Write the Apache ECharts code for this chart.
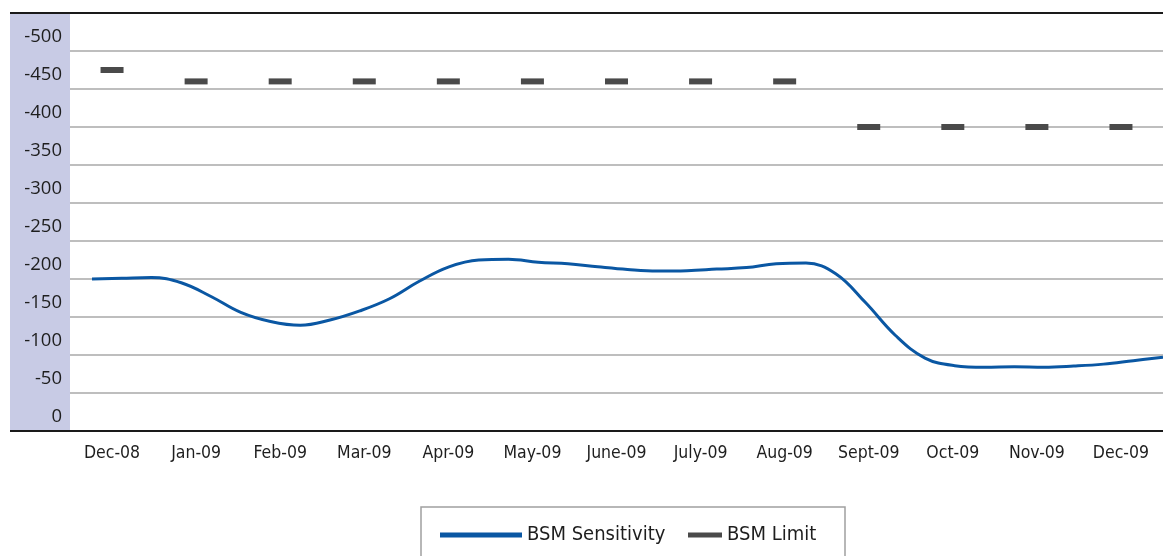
<!DOCTYPE html>
<html>
<head>
<meta charset="utf-8">
<title>BSM Sensitivity vs BSM Limit</title>
<script src="https://cdn.jsdelivr.net/npm/echarts@6/dist/echarts.min.js"></script>
<style>
  html, body { margin: 0; padding: 0; background: #ffffff; }
  #chart { width: 1163px; height: 556px; }
</style>
</head>
<body>
<div id="chart"></div>
<script>
// Month labels of the limit schedule
const categories = ['Dec-08', 'Jan-09', 'Feb-09', 'Mar-09', 'Apr-09', 'May-09', 'June-09',
  'July-09', 'Aug-09', 'Sept-09', 'Oct-09', 'Nov-09', 'Dec-09'];

// Monthly BSM limit
const bsmLimit = [-475, -460, -460, -460, -460, -460, -460, -460, -460, -400, -400, -400, -400];

// BSM sensitivity, sampled roughly every ten days over the period
const bsmSensitivity = [-200, -201, -202, -195, -177, -156, -144, -139, -146, -158,
  -174, -197, -216, -225, -226, -222, -220, -216, -212.5, -210.5,
  -211, -213, -215, -220, -221, -207, -169, -126, -96, -86,
  -84, -84.5, -84, -85.5, -88, -92.5, -97];

// Value-axis ticks (the top one is left unlabelled)
const yTicks = [-550, -500, -450, -400, -350, -300, -250, -200, -150, -100, -50, 0];

const LABEL_FONT = "'Liberation Sans Narrow', 'DejaVu Sans Condensed', 'Open Sans', sans-serif";
const AXIS_FONT = "'Open Sans', sans-serif";

const chart = echarts.init(document.getElementById('chart'), null, { renderer: 'canvas' });

const yMin = yTicks[0];
const yMax = yTicks[yTicks.length - 1];
const yStep = yTicks[1] - yTicks[0];

chart.setOption({
  animation: false,
  backgroundColor: '#ffffff',
  grid: [
    { left: 70, right: -12.5, top: 13, bottom: 125 },
    { left: 92, right: 0, top: 13, bottom: 125 }
  ],
  xAxis: [
    {
      type: 'category',
      gridIndex: 0,
      data: categories,
      boundaryGap: true,
      axisLine: { show: true, lineStyle: { color: '#1a1a1a', width: 2 } },
      axisTick: { show: false },
      axisLabel: { color: '#1e1e1e', fontFamily: LABEL_FONT, fontSize: 17.5, margin: 13, interval: 0 },
      splitLine: { show: false }
    },
    {
      type: 'category',
      gridIndex: 1,
      data: bsmSensitivity.map((_, i) => i),
      boundaryGap: false,
      show: false
    }
  ],
  yAxis: [
    {
      type: 'value',
      gridIndex: 0,
      min: yMin,
      max: yMax,
      interval: yStep,
      inverse: true,
      axisLine: { show: false },
      axisTick: { show: false },
      axisLabel: {
        color: '#1e1e1e',
        fontFamily: AXIS_FONT,
        fontSize: 18.5,
        margin: 8,
        lineHeight: 28,
        verticalAlign: 'bottom',
        formatter: v => (v === yMin ? '' : String(v))
      },
      splitLine: { show: true, lineStyle: { color: '#a8a8a8', width: 1.5 } }
    },
    {
      type: 'value',
      gridIndex: 1,
      min: yMin,
      max: yMax,
      interval: yStep,
      inverse: true,
      show: false
    }
  ],
  legend: [
    {
      data: ['BSM Sensitivity'],
      left: 435,
      top: 520,
      icon: 'rect',
      itemWidth: 82,
      itemHeight: 5,
      itemStyle: { opacity: 1 },
      textStyle: { color: '#1e1e1e', fontFamily: LABEL_FONT, fontSize: 20 }
    },
    {
      data: ['BSM Limit'],
      left: 683,
      top: 520,
      icon: 'rect',
      itemWidth: 34,
      itemHeight: 5,
      itemStyle: { opacity: 1 },
      textStyle: { color: '#1e1e1e', fontFamily: LABEL_FONT, fontSize: 20 }
    }
  ],
  graphic: [
    // shaded band behind the value labels
    { type: 'rect', z: -10, shape: { x: 10, y: 13, width: 60, height: 418 }, style: { fill: '#c8cbe5' } },
    // top frame line
    { type: 'line', z: 10, shape: { x1: 10, y1: 13, x2: 1163, y2: 13 }, style: { stroke: '#1a1a1a', lineWidth: 2 } },
    // baseline under the label band
    { type: 'line', z: 10, shape: { x1: 10, y1: 431, x2: 72, y2: 431 }, style: { stroke: '#1a1a1a', lineWidth: 2 } },
    // legend frame
    { type: 'rect', z: 10, shape: { x: 421, y: 507, width: 424, height: 60 }, style: { fill: 'none', stroke: '#a0a0a0', lineWidth: 1.5 } }
  ],
  series: [
    {
      name: 'BSM Sensitivity',
      type: 'line',
      xAxisIndex: 1,
      yAxisIndex: 1,
      data: bsmSensitivity,
      smooth: 0.4,
      showSymbol: false,
      symbol: 'none',
      z: 3,
      lineStyle: { color: '#0a57a3', width: 3 },
      itemStyle: { color: '#0a57a3' }
    },
    {
      name: 'BSM Limit',
      type: 'scatter',
      xAxisIndex: 0,
      yAxisIndex: 0,
      data: bsmLimit,
      symbol: 'rect',
      symbolSize: [23, 6],
      z: 4,
      itemStyle: { color: '#4a4a4a', opacity: 1 }
    }
  ]
});
</script>
</body>
</html>
